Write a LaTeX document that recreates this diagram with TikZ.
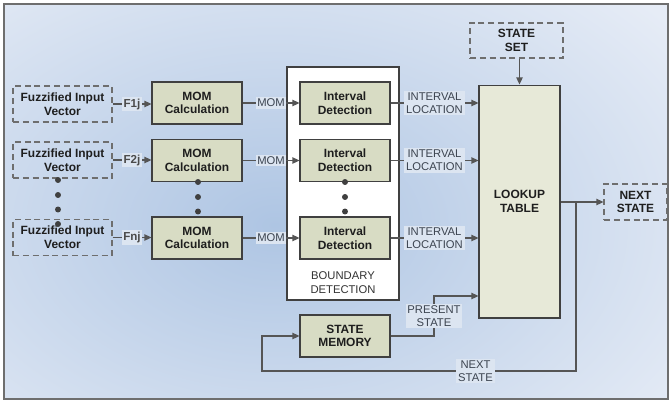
\documentclass[tikz,border=0pt]{standalone}
\usepackage{fontspec}
\setmainfont{Liberation Sans}
\usepackage{tikz}
\usetikzlibrary{arrows.meta,calc}
\definecolor{bgedge}{HTML}{E6ECF6}
\definecolor{bgdeep}{HTML}{AEC5E3}
\definecolor{framegray}{HTML}{6E6E6E}
\definecolor{boxfill}{HTML}{D8DCC4}
\definecolor{tablefill}{HTML}{E7E9D8}
\definecolor{linegray}{HTML}{555555}
\definecolor{textdark}{HTML}{1E1E1E}
\definecolor{labelgray}{HTML}{3C4450}
\definecolor{labelfill}{HTML}{DCE5F1}

\begin{document}
\begin{tikzpicture}[
    x=0.02cm, y=-0.02cm,
    every node/.style={font=\fontsize{6.8}{7.8}\selectfont, align=center},
    procbox/.style={rectangle, draw=black!75, fill=boxfill, line width=0.6pt, minimum width=1.8cm, minimum height=0.84cm, font=\fontsize{6.8}{7.8}\selectfont\bfseries, text=textdark},
    dashbox/.style={rectangle, draw=framegray, dash pattern=on 3.4pt off 2.2pt, line width=0.6pt, font=\fontsize{6.8}{7.8}\selectfont\bfseries, text=textdark},
    fuzzbox/.style={dashbox, minimum width=1.98cm, minimum height=0.72cm},
    sig/.style={font=\fontsize{6.4}{7.6}\selectfont, text=labelgray, fill=labelfill, inner sep=1pt},
    sigbold/.style={sig, font=\fontsize{6.6}{7.6}\selectfont\bfseries, text=textdark!80},
    arrow/.style={-{Triangle[length=4pt,width=3.6pt]}, line width=0.7pt, draw=linegray},
    dot/.style={circle, fill=black!75, inner sep=0pt, minimum size=3.4pt}
]
    % background and frame
    \useasboundingbox (0,0) rectangle (670,403);
    \begin{scope}
        \clip (4,4) rectangle (668,399);
        \fill[bgedge] (4,4) rectangle (668,399);
        \shade[inner color=bgdeep, outer color=bgedge] (275,225) ellipse (10cm and 6.6cm);
    \end{scope}
    \draw[framegray, line width=1pt] (4,4) rectangle (668,399);

    % boundary detection block
    \node[rectangle, draw=black!75, fill=white, line width=0.6pt, minimum width=2.24cm, minimum height=4.66cm] (bound) at (343,183.5) {};
    \node[font=\fontsize{6.4}{7.6}\selectfont, text=black!80] (boundlbl) at (343,282.5) {BOUNDARY\\DETECTION};

    % inputs
    \node[fuzzbox] (fuzz1) at (62.5,104) {Fuzzified Input\\Vector};
    \node[fuzzbox] (fuzz2) at (62.5,160) {Fuzzified Input\\Vector};
    \node[fuzzbox] (fuzz3) at (62.5,237.5) {Fuzzified Input\\Vector};

    \node[procbox] (mom1) at (197,103) {MOM\\Calculation};
    \node[procbox] (mom2) at (197,160.5) {MOM\\Calculation};
    \node[procbox] (mom3) at (197,238) {MOM\\Calculation};

    \node[procbox] (int1) at (345,103) {Interval\\Detection};
    \node[procbox] (int2) at (345,160.5) {Interval\\Detection};
    \node[procbox] (int3) at (345,238) {Interval\\Detection};

    \node[procbox, fill=tablefill, minimum width=1.62cm, minimum height=4.66cm] (lookup) at (519.5,201.5) {LOOKUP\\TABLE};
    \node[dashbox, minimum width=1.86cm, minimum height=0.7cm] (stateset) at (516.5,40.5) {STATE\\SET};
    \node[dashbox, minimum width=1.26cm, minimum height=0.72cm] (nextst) at (635.5,202) {NEXT\\STATE};
    \node[procbox] (statemem) at (345,336) {STATE\\MEMORY};

    % dots
    \node[dot] (fdot1) at (58,180) {};
    \node[dot] (fdot2) at (58,195) {};
    \node[dot] (fdot3) at (58,209.5) {};
    \node[dot] (fdot4) at (58,224) {};
    \node[dot] (mdot1) at (198,182) {};
    \node[dot] (mdot2) at (198,197) {};
    \node[dot] (mdot3) at (198,211.5) {};
    \node[dot] (idot1) at (345,182) {};
    \node[dot] (idot2) at (345,197) {};
    \node[dot] (idot3) at (345,211.5) {};

    % connectors
    \draw[arrow] (fuzz1) -- node[sigbold] {F1j} (mom1.west |- fuzz1);
    \draw[arrow] (fuzz2) -- node[sigbold] {F2j} (mom2.west |- fuzz2);
    \draw[arrow] (fuzz3) -- node[sigbold] {Fnj} (mom3.west |- fuzz3);

    \draw[arrow] (mom1) -- node[sig] {MOM} (int1);
    \draw[arrow] (mom2) -- node[sig] {MOM} (int2);
    \draw[arrow] (mom3) -- node[sig] {MOM} (int3);

    \draw[arrow] (int1) -- node[sig] {INTERVAL\\LOCATION} (int1 -| lookup.west);
    \draw[arrow] (int2) -- node[sig] {INTERVAL\\LOCATION} (int2 -| lookup.west);
    \draw[arrow] (int3) -- node[sig] {INTERVAL\\LOCATION} (int3 -| lookup.west);

    \draw[arrow] (stateset.south -| lookup.north) -- (lookup.north);
    \draw[arrow] (lookup.east |- nextst) -- (nextst.west);

    \coordinate (split) at (576,202);
    \coordinate (fbend) at (576,371);
    \coordinate (fback) at (262,371);
    \draw[arrow] (split) -- (fbend) -- node[sig, pos=0.32] {NEXT\\STATE} (fback) |- (statemem.west);

    \coordinate (pbend) at (434,336);
    \coordinate (ptop) at (434,296);
    \draw[arrow] (statemem.east) -- (pbend) -- node[sig] {PRESENT\\STATE} (ptop) -- (ptop -| lookup.west);
\end{tikzpicture}
\end{document}
